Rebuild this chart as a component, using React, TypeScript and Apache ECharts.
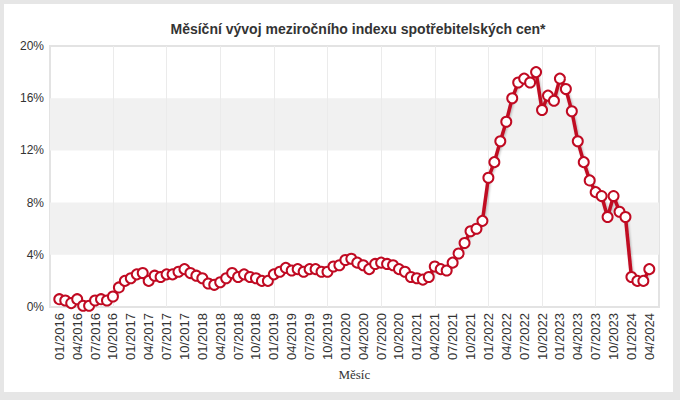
import React, { useEffect, useRef } from "react";
import * as echarts from "echarts";

// ---- data ----
const years = [2016, 2017, 2018, 2019, 2020, 2021, 2022, 2023, 2024];
const cpi2016 = [0.6, 0.5, 0.3, 0.6, 0.1, 0.1, 0.5, 0.6, 0.5, 0.8, 1.5, 2.0];
const cpi2017 = [2.2, 2.5, 2.6, 2.0, 2.4, 2.3, 2.5, 2.5, 2.7, 2.9, 2.6, 2.4];
const cpi2018 = [2.2, 1.8, 1.7, 1.9, 2.2, 2.6, 2.3, 2.5, 2.3, 2.2, 2.0, 2.0];
const cpi2019 = [2.5, 2.7, 3.0, 2.8, 2.9, 2.7, 2.9, 2.9, 2.7, 2.7, 3.1, 3.2];
const cpi2020 = [3.6, 3.7, 3.4, 3.2, 2.9, 3.3, 3.4, 3.3, 3.2, 2.9, 2.7, 2.3];
const cpi2021 = [2.2, 2.1, 2.3, 3.1, 2.9, 2.8, 3.4, 4.1, 4.9, 5.8, 6.0, 6.6];
const cpi2022 = [9.9, 11.1, 12.7, 14.2, 16.0, 17.2, 17.5, 17.2, 18.0, 15.1, 16.2, 15.8];
const cpi2023 = [17.5, 16.7, 15.0, 12.7, 11.1, 9.7, 8.8, 8.5, 6.9, 8.5, 7.3, 6.9];
const cpi2024 = [2.3, 2.0, 2.0, 2.9];
const monthNames = ["01", "02", "03", "04", "05", "06", "07", "08", "09", "10", "11", "12"];
const yTicks = [0, 4, 8, 12, 16, 20];

const title = "Měsíční vývoj meziročního indexu spotřebitelských cen*";
const xName = "Měsíc";

const yearValues = [cpi2016, cpi2017, cpi2018, cpi2019, cpi2020, cpi2021, cpi2022, cpi2023, cpi2024];
const categories: string[] = [];
const values: number[] = [];
yearValues.forEach((arr, yi) => {
  arr.forEach((v, mi) => {
    categories.push(monthNames[mi] + "/" + years[yi]);
    values.push(v);
  });
});

const RED = "#c00a22";
const FONT = "'Liberation Sans', Arial, sans-serif";

export default function App() {
  const ref = useRef<HTMLDivElement>(null);
  useEffect(() => {
    if (!ref.current) return;
    const chart = echarts.init(ref.current, undefined, { renderer: "svg" });
    const last = categories.length - 1;
    chart.setOption({
      animation: false,
      backgroundColor: "transparent",
      title: {
        text: title,
        left: 353,
        textAlign: "center",
        top: 17,
        textStyle: { fontFamily: FONT, fontSize: 14, fontWeight: "bold", color: "#333" },
      },
      grid: [
        { left: 50, top: 46, width: 609, height: 261, show: true, borderColor: "#e3e3e3", borderWidth: 2, backgroundColor: "transparent" },
        { left: 59.3, top: 46, width: 590, height: 261 },
      ],
      xAxis: [
        { type: "category", gridIndex: 0, data: categories, show: false },
        {
          type: "category",
          gridIndex: 1,
          data: categories,
          boundaryGap: false,
          axisLine: { show: false },
          axisTick: { show: false },
          axisLabel: {
            rotate: 90,
            margin: 6,
            interval: (i: number) => i % 3 === 0,
            fontFamily: FONT,
            fontSize: 13,
            color: "#333",
          },
          splitLine: {
            show: true,
            interval: (i: number) => i > 0 && i < last && i % 9 === 0,
            lineStyle: { color: "#ebebeb", width: 1 },
          },
          name: xName,
          nameLocation: "middle",
          nameGap: 52,
          nameTextStyle: { fontFamily: "'Liberation Serif', 'Times New Roman', serif", fontSize: 13, color: "#333" },
        },
      ],
      yAxis: [
        {
          type: "value",
          gridIndex: 0,
          min: yTicks[0],
          max: yTicks[yTicks.length - 1],
          interval: 4,
          axisLine: { show: false },
          axisTick: { show: false },
          splitLine: { show: false },
          splitArea: { show: true, areaStyle: { color: ["rgba(255,255,255,0)", "#f1f1f1"] } },
          axisLabel: { formatter: "{value}%", margin: 6, fontFamily: FONT, fontSize: 12, color: "#333" },
        },
        {
          type: "value",
          gridIndex: 1,
          min: yTicks[0],
          max: yTicks[yTicks.length - 1],
          show: false,
          splitLine: { show: false },
        },
      ],
      series: [
        {
          type: "line",
          xAxisIndex: 1,
          yAxisIndex: 1,
          data: values,
          symbol: "circle",
          symbolSize: 10,
          showAllSymbol: true,
          lineStyle: {
            color: RED,
            width: 3.5,
            shadowColor: "rgba(0,0,0,0.25)",
            shadowBlur: 2,
            shadowOffsetX: 1,
            shadowOffsetY: 1,
          },
          itemStyle: { color: "#fff", borderColor: RED, borderWidth: 2 },
          z: 3,
        },
      ],
    });
    return () => chart.dispose();
  }, []);

  return (
    <div style={{ position: "absolute", left: 0, top: 0, width: 680, height: 400, background: "#e6e6e6" }}>
      <div style={{ position: "absolute", left: 4, top: 4, width: 669, height: 388, background: "#fff" }} />
      <div ref={ref} style={{ position: "absolute", left: 0, top: 0, width: 680, height: 400 }} />
    </div>
  );
}
